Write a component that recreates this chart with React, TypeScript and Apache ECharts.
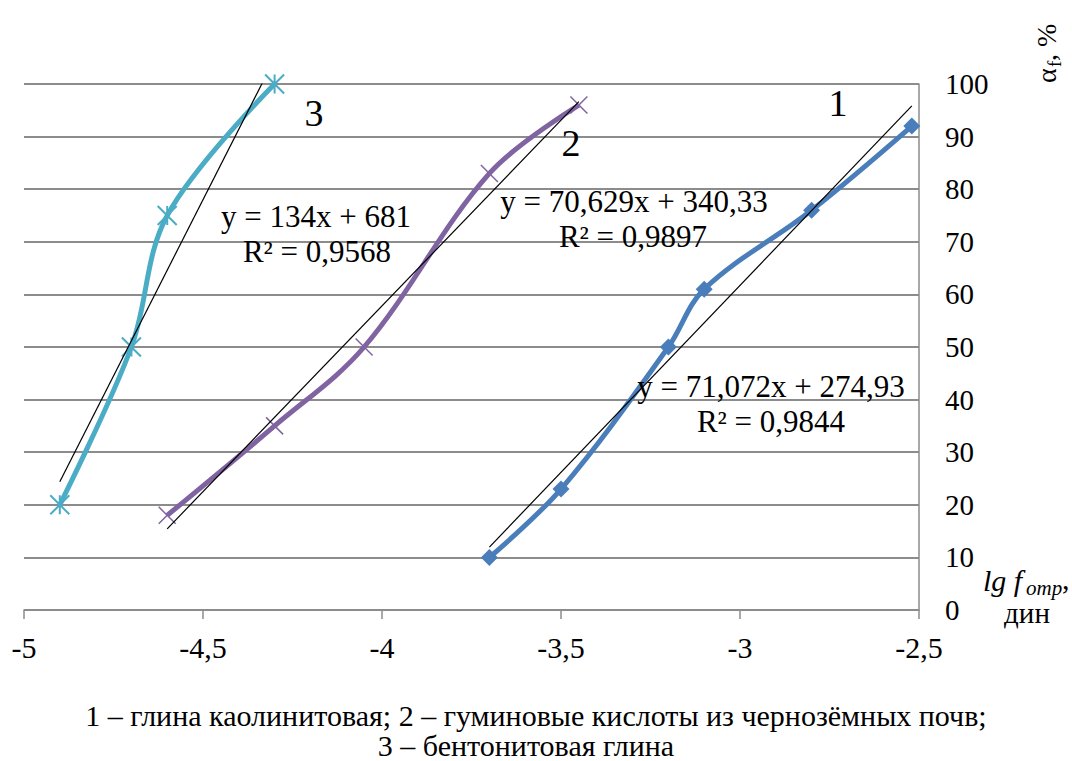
import React, { useEffect, useRef } from "react";
import * as echarts from "echarts";

// Series 1 – kaolinite clay
const s1X = [-3.7, -3.5, -3.2, -3.1, -2.8, -2.52];
const s1Y = [10, 23, 50, 61, 76, 92];
// Series 2 – humic acids
const s2X = [-4.6, -4.3, -4.05, -3.7, -3.45];
const s2Y = [18, 35, 50, 83, 96];
// Series 3 – bentonite clay
const s3X = [-4.9, -4.7, -4.6, -4.3];
const s3Y = [20, 50, 75, 100];

// Linear trend coefficients (slope, intercept)
const trend1 = [71.072, 274.93];
const trend2 = [70.629, 340.33];
const trend3 = [134, 681];

const eq1 = ["y = 71,072x + 274,93", "R² = 0,9844"];
const eq2 = ["y = 70,629x + 340,33", "R² = 0,9897"];
const eq3 = ["y = 134x + 681", "R² = 0,9568"];

const xTicks = { min: -5, max: -2.5, interval: 0.5 };
const yTicks = { min: 0, max: 100, interval: 10 };

const caption1 = "1 – глина каолинитовая; 2 – гуминовые кислоты из чернозёмных почв;";
const caption2 = "3 – бентонитовая глина";

const FONT = "Liberation Serif";

function pairs(xs: number[], ys: number[]) {
  return xs.map((x, i) => [x, ys[i]]);
}
function trendData(xs: number[], c: number[]) {
  const lo = Math.min(...xs);
  const hi = Math.max(...xs);
  return [
    [lo, c[0] * lo + c[1]],
    [hi, c[0] * hi + c[1]],
  ];
}

const BLUE = "#4A7EBB";
const PURPLE = "#8064A2";
const TEAL = "#4BACC6";

export default function App() {
  const ref = useRef<HTMLDivElement>(null);
  useEffect(() => {
    document.body.style.margin = "0";
    const chart = echarts.init(ref.current!, null, { renderer: "svg" });
    const txt = (
      text: string,
      x: number,
      y: number,
      size: number,
      align = "left",
      extra: any = {}
    ) => ({
      type: "text",
      x,
      y,
      z: 100,
      style: {
        text,
        fontFamily: FONT,
        fontSize: size,
        fontStyle: extra.italic ? "italic" : "normal",
        fill: "#000",
        align,
        verticalAlign: "middle",
        ...(extra.lineHeight ? { lineHeight: extra.lineHeight } : {}),
      },
    });

    const trendSeries = (name: string, xs: number[], c: number[]) => ({
      name,
      type: "line",
      data: trendData(xs, c),
      symbol: "none",
      lineStyle: { color: "#000", width: 1.2 },
      z: 5,
      clip: true,
    });

    chart.setOption({
      animation: false,
      backgroundColor: "#fff",
      textStyle: { fontFamily: FONT },
      grid: { left: 24, right: 153, top: 84, bottom: 151 },
      xAxis: {
        type: "value",
        ...xTicks,
        axisLine: { show: true, onZero: false, lineStyle: { color: "#8c8c8c", width: 1.5 } },
        axisTick: { show: true, length: 9, lineStyle: { color: "#8c8c8c", width: 1.5 } },
        splitLine: { show: false },
        axisLabel: {
          color: "#000",
          fontFamily: FONT,
          fontSize: 30,
          margin: 22,
          showMinLabel: true,
          showMaxLabel: true,
          formatter: (v: number) => "{t|" + String(v).replace(".", ",") + "}",
          rich: { t: { fontFamily: FONT, fontSize: 30, color: "#000" } },
        },
      },
      yAxis: {
        type: "value",
        position: "right",
        ...yTicks,
        axisLine: { show: true, lineStyle: { color: "#8c8c8c", width: 1.5 } },
        axisTick: { show: false },
        splitLine: { show: true, lineStyle: { color: "#8c8c8c", width: 1.8 } },
        axisLabel: {
          color: "#000",
          fontFamily: FONT,
          fontSize: 29,
          margin: 26,
          formatter: (v: number) => "{t|" + v + "}",
          rich: { t: { fontFamily: FONT, fontSize: 29, color: "#000" } },
        },
      },
      series: [
        {
          name: "1",
          type: "line",
          data: pairs(s1X, s1Y),
          smooth: 0.35,
          symbol: "diamond",
          symbolSize: 17,
          lineStyle: { color: BLUE, width: 5 },
          itemStyle: { color: BLUE },
          z: 3,
        },
        {
          name: "2",
          type: "line",
          data: pairs(s2X, s2Y),
          smooth: 0.35,
          symbol: "path://M0,0L10,10M10,0L0,10",
          symbolSize: 17,
          lineStyle: { color: PURPLE, width: 5 },
          itemStyle: { color: "none", borderColor: PURPLE, borderWidth: 1.5 },
          z: 3,
        },
        {
          name: "3",
          type: "line",
          data: pairs(s3X, s3Y),
          smooth: 0.35,
          symbol: "path://M0,0L10,10M10,0L0,10M5,0L5,10",
          symbolSize: 19,
          lineStyle: { color: TEAL, width: 5 },
          itemStyle: { color: "none", borderColor: TEAL, borderWidth: 2 },
          z: 3,
        },
        trendSeries("t1", s1X, trend1),
        trendSeries("t2", s2X, trend2),
        trendSeries("t3", s3X, trend3),
      ],
      graphic: [
        txt(eq3[0], 316, 216, 31, "center"),
        txt(eq3[1], 317, 251, 31, "center"),
        txt(eq2[0], 634, 201, 31, "center"),
        txt(eq2[1], 633, 236, 31, "center"),
        txt(eq1[0], 771, 386, 31, "center"),
        txt(eq1[1], 771, 421, 31, "center"),
        txt("1", 838, 103, 38, "center"),
        txt("2", 571, 143, 38, "center"),
        txt("3", 314, 113, 38, "center"),
        {
          type: "group",
          x: 1046,
          y: 83,
          rotation: Math.PI / 2,
          children: [
            txt("α", 0, 0, 28, "left"),
            txt("f", 16, 8, 19, "left"),
            txt(", %", 22, 0, 28, "left"),
          ],
        },
        txt("lg f", 983, 580, 30, "left", { italic: true }),
        txt("отр", 1026, 588, 21, "left", { italic: true, lineHeight: 16 }),
        txt(",", 1062, 578, 30, "left", { lineHeight: 18 }),
        txt("дин", 1027, 613, 29, "center"),
        txt(caption1, 536, 715, 30, "center", { lineHeight: 26 }),
        txt(caption2, 526, 745, 30, "center", { lineHeight: 26 }),
      ],
    } as any);
    return () => chart.dispose();
  }, []);
  return <div ref={ref} style={{ width: 1072, height: 761 }} />;
}
